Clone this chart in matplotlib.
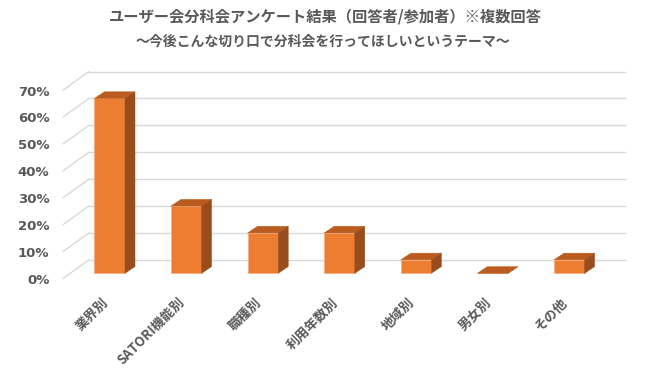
import matplotlib
matplotlib.use('Agg')
import matplotlib.pyplot as plt
from matplotlib.patches import Polygon
import matplotlib.transforms as mtrans

plt.rcParams['font.family'] = ['Noto Sans CJK JP', 'DejaVu Sans']

# ---- data ----
categories = ['業界別', 'SATORI機能別', '職種別', '利用年数別', '地域別', '男女別', 'その他']
values = [0.65, 0.25, 0.15, 0.15, 0.05, 0.0, 0.05]
yticks = [0.0, 0.1, 0.2, 0.3, 0.4, 0.5, 0.6, 0.7]
ytick_labels = ['0%', '10%', '20%', '30%', '40%', '50%', '60%', '70%']
title1 = 'ユーザー会分科会アンケート結果（回答者/参加者）※複数回答'
title2 = '～今後こんな切り口で分科会を行ってほしいというテーマ～'

W, H = 650, 375
fig = plt.figure(figsize=(W / 100, H / 100), dpi=100)
fig.patch.set_facecolor('white')

ax_l, ax_r = 71.4, 607.6
ax_b, ax_t = 273.3, 85.0
ax = fig.add_axes([ax_l / W, (H - ax_b) / H, (ax_r - ax_l) / W, (ax_b - ax_t) / H])
ax.set_xlim(-0.5, len(categories) - 0.5)
ax.set_ylim(0, 0.7)
ax.axis('off')

px_x = (ax_r - ax_l) / len(categories)
px_y = (ax_b - ax_t) / 0.7


def dxy(px, py):
    """pixel offset (x right, y down) -> data offset"""
    return px / px_x, -py / px_y


grid_c = '#D9D9D9'
text_c = '#595959'
front_c = '#ED7D31'
top_c = '#BA5C1F'
side_c = '#9A4D1C'

x0, x1 = -0.5, len(categories) - 0.5
bx, by = dxy(17.5, -13.5)   # back wall offset
fx, fy = dxy(-8.1, 5.0)     # front edge of left wall

for v in yticks:
    ax.plot([x0 + bx, x1 + bx], [v + by, v + by], color=grid_c, lw=1.0,
            clip_on=False, zorder=1)
    ax.plot([x0 + fx, x0 + bx], [v + fy, v + by], color=grid_c, lw=1.0,
            clip_on=False, zorder=1)

# ---- 3D-look bars ----
w = 0.4
ddx, ddy = dxy(10, -6.7)
xs = list(range(len(categories)))
ax.bar(xs, values, width=w, color=front_c, edgecolor='#F4B183', lw=0.6,
       zorder=3, clip_on=False)
for x, v in zip(xs, values):
    top = Polygon([(x - w / 2, v), (x + w / 2, v), (x + w / 2 + ddx, v + ddy),
                   (x - w / 2 + ddx, v + ddy)], closed=True, facecolor=top_c,
                  edgecolor=top_c, lw=0.3, zorder=3, clip_on=False)
    side = Polygon([(x + w / 2, 0), (x + w / 2 + ddx, ddy), (x + w / 2 + ddx, v + ddy),
                    (x + w / 2, v)], closed=True, facecolor=side_c,
                   edgecolor=side_c, lw=0.3, zorder=3, clip_on=False)
    ax.add_patch(top)
    ax.add_patch(side)

# ---- axis labels ----
ytr = ax.transData + mtrans.ScaledTranslation(-22 / 100, -7 / 100, fig.dpi_scale_trans)
for v, lab in zip(yticks, ytick_labels):
    ax.text(x0, v, lab, transform=ytr, ha='right', va='center', fontsize=9.5,
            fontweight='bold', color=text_c, family=['DejaVu Sans'])

xtr = ax.transData + mtrans.ScaledTranslation(-4 / 100, -27 / 100, fig.dpi_scale_trans)
for x, cat in zip(xs, categories):
    ax.text(x, 0, cat, transform=xtr, ha='right', va='center', rotation=45,
            rotation_mode='anchor', fontsize=9.5, fontweight='bold', color=text_c)

fig.text(325 / W, 1 - 16.5 / H, title1, ha='center', va='center', fontsize=11,
         fontweight='bold', color=text_c)
fig.text(323 / W, 1 - 41.5 / H, title2, ha='center', va='center', fontsize=10,
         fontweight='bold', color=text_c)

fig.savefig('out.png', dpi=100, facecolor='white')
